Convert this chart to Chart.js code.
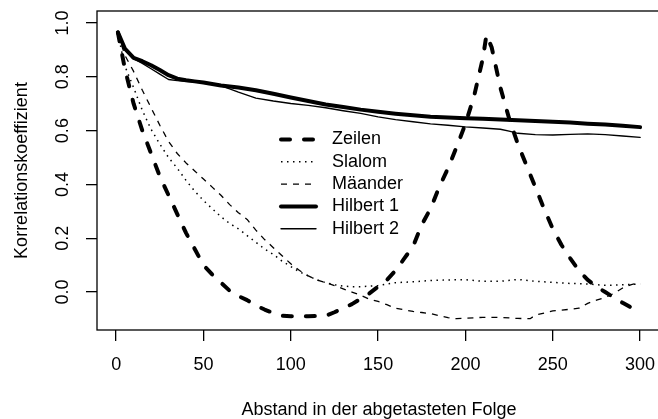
<!DOCTYPE html>
<html>
<head>
<meta charset="utf-8">
<script src="https://cdn.jsdelivr.net/npm/chart.js@4/dist/chart.umd.min.js"></script>
<style>
  html, body { margin: 0; padding: 0; background: #fff; overflow: hidden; }
  #wrap { width: 670px; height: 419px; }
</style>
</head>
<body>
<div id="wrap"><canvas id="graph" width="670" height="419"></canvas></div>
<script>
// axis labels
const xTitle = 'Abstand in der abgetasteten Folge';
const yTitle = 'Korrelationskoeffizient';
const seriesNames = ['Zeilen', 'Slalom', 'Mäander', 'Hilbert 1', 'Hilbert 2'];

// data (lag, correlation)
const zeilenLag = [1,5,10,15,20,25,30,35,40,45,50,55,60,65,70,75,80,85,90,95,100,110,120,125,130,135,140,145,150,155,160,165,170,175,180,185,190,195,200,205,210,212,215,220,225,230,235,240,245,250,255,260,265,270,275,280,285,290,295,300];
const zeilenR = [0.965,0.83,0.70,0.60,0.515,0.43,0.36,0.29,0.22,0.16,0.10,0.065,0.035,0.005,-0.015,-0.03,-0.05,-0.065,-0.078,-0.088,-0.09,-0.09,-0.088,-0.075,-0.06,-0.045,-0.025,-0.005,0.02,0.045,0.08,0.125,0.17,0.25,0.31,0.39,0.46,0.54,0.625,0.73,0.87,0.955,0.91,0.76,0.645,0.55,0.47,0.39,0.31,0.235,0.175,0.125,0.08,0.045,0.02,0.0,-0.02,-0.04,-0.058,-0.07];

const slalomLag = [1,5,10,15,20,25,30,35,40,45,50,55,60,65,70,75,80,85,90,95,100,105,110,115,120,125,130,135,140,145,150,155,160,170,180,190,200,210,220,230,240,250,260,270,280,290,300];
const slalomR = [0.96,0.84,0.76,0.675,0.605,0.55,0.50,0.46,0.415,0.375,0.34,0.31,0.28,0.255,0.235,0.21,0.185,0.16,0.14,0.115,0.095,0.075,0.06,0.045,0.035,0.027,0.022,0.02,0.02,0.022,0.024,0.03,0.035,0.038,0.043,0.045,0.046,0.04,0.04,0.047,0.04,0.036,0.032,0.03,0.025,0.027,0.03];

const maeanderLag = [1,5,10,15,20,25,30,35,40,45,50,55,60,65,70,75,80,85,90,95,100,105,110,115,120,125,130,135,140,145,150,155,160,165,170,175,180,185,190,195,200,210,220,230,237,240,245,250,260,265,270,275,280,285,290,295,300];
const maeanderR = [0.96,0.88,0.82,0.75,0.685,0.62,0.56,0.515,0.48,0.45,0.42,0.39,0.36,0.325,0.295,0.27,0.23,0.195,0.165,0.135,0.105,0.08,0.06,0.045,0.035,0.024,0.012,0.0,-0.012,-0.027,-0.035,-0.047,-0.06,-0.066,-0.072,-0.076,-0.08,-0.088,-0.095,-0.099,-0.097,-0.094,-0.094,-0.098,-0.099,-0.086,-0.078,-0.07,-0.064,-0.06,-0.042,-0.03,-0.02,-0.005,0.015,0.028,0.035];

const hilbert1Lag = [1,5,10,15,20,25,30,35,40,45,50,60,70,80,90,100,110,120,130,140,150,160,170,180,190,200,210,220,230,240,250,260,270,280,290,300];
const hilbert1R = [0.965,0.905,0.87,0.858,0.843,0.825,0.806,0.793,0.787,0.783,0.779,0.768,0.76,0.75,0.737,0.723,0.71,0.697,0.688,0.678,0.67,0.663,0.657,0.652,0.649,0.646,0.644,0.641,0.639,0.636,0.633,0.63,0.626,0.623,0.618,0.613];

const hilbert2Lag = [1,5,10,15,20,25,30,35,40,45,50,55,60,65,70,75,80,90,100,110,120,130,140,150,160,170,180,190,200,210,220,225,230,240,250,260,270,280,290,300];
const hilbert2R = [0.96,0.9,0.868,0.85,0.83,0.81,0.79,0.786,0.783,0.781,0.779,0.775,0.766,0.755,0.743,0.732,0.721,0.71,0.701,0.694,0.685,0.674,0.664,0.651,0.641,0.633,0.625,0.62,0.614,0.61,0.605,0.598,0.59,0.585,0.584,0.586,0.588,0.585,0.58,0.575];

const xTicks = [0, 50, 100, 150, 200, 250, 300];
const yTicks = [0.0, 0.2, 0.4, 0.6, 0.8, 1.0];

const font = '"Liberation Sans", Arial, Helvetica, sans-serif';

function pts(xs, ys) {
  return xs.map((x, i) => ({ x: x, y: ys[i] }));
}

const styles = [
  { width: 4,   dash: [9, 14], cap: 'round' },
  { width: 1.5, dash: [1.5, 4.5], cap: 'butt' },
  { width: 1.3, dash: [6, 6], cap: 'butt' },
  { width: 4,   dash: [], cap: 'round' },
  { width: 1.4, dash: [], cap: 'round' }
];

const allData = [
  pts(zeilenLag, zeilenR),
  pts(slalomLag, slalomR),
  pts(maeanderLag, maeanderR),
  pts(hilbert1Lag, hilbert1R),
  pts(hilbert2Lag, hilbert2R)
];

const datasets = seriesNames.map((name, i) => ({
  label: name,
  data: allData[i],
  borderColor: '#000',
  borderWidth: styles[i].width,
  borderDash: styles[i].dash,
  borderCapStyle: styles[i].cap,
  borderJoinStyle: 'round',
  pointRadius: 0,
  tension: 0,
  fill: false
}));

// R-like frame, rotated y labels, titles and legend
const rStyle = {
  id: 'rStyle',
  afterDraw(chart) {
    const ctx = chart.ctx;
    const a = chart.chartArea;
    const ys = chart.scales.y;
    ctx.save();
    ctx.strokeStyle = '#000';
    ctx.lineWidth = 1.3;
    ctx.setLineDash([]);
    ctx.strokeRect(a.left, a.top, a.right - a.left, a.bottom - a.top);

    ctx.fillStyle = '#000';
    ctx.font = '18px ' + font;
    ctx.textAlign = 'center';
    ctx.textBaseline = 'middle';
    yTicks.forEach(v => {
      ctx.save();
      ctx.translate(63, ys.getPixelForValue(v));
      ctx.rotate(-Math.PI / 2);
      ctx.fillText(v.toFixed(1), 0, 0);
      ctx.restore();
    });
    ctx.save();
    ctx.translate(22, (a.top + a.bottom) / 2);
    ctx.rotate(-Math.PI / 2);
    ctx.fillText(yTitle, 0, 0);
    ctx.restore();
    ctx.fillText(xTitle, (a.left + a.right) / 2, 410);

    // legend, no box
    ctx.textAlign = 'left';
    seriesNames.forEach((name, i) => {
      const y = 139.5 + i * 22.3;
      ctx.beginPath();
      ctx.lineWidth = styles[i].width;
      ctx.lineCap = styles[i].cap;
      ctx.setLineDash(styles[i].dash);
      ctx.moveTo(281, y);
      ctx.lineTo(316, y);
      ctx.stroke();
      ctx.fillText(name, 332, y);
    });
    ctx.restore();
  }
};

new Chart(document.getElementById('graph').getContext('2d'), {
  type: 'line',
  data: { datasets: datasets },
  options: {
    responsive: false,
    animation: false,
    layout: { padding: { top: 11, right: 9, left: 0, bottom: 0 } },
    plugins: { legend: { display: false }, tooltip: { enabled: false } },
    scales: {
      x: {
        type: 'linear',
        min: -10.96,
        max: 311.96,
        afterFit: s => { s.height = 89; },
        afterBuildTicks: s => { s.ticks = xTicks.map(v => ({ value: v })); },
        border: { display: false },
        grid: { drawOnChartArea: false, drawTicks: true, tickLength: 11, color: '#000', lineWidth: 1.3 },
        ticks: { color: '#000', padding: 13, maxRotation: 0, font: { size: 18, family: font } }
      },
      y: {
        type: 'linear',
        min: -0.141,
        max: 1.0446,
        afterFit: s => { s.width = 97; },
        afterBuildTicks: s => { s.ticks = yTicks.map(v => ({ value: v })); },
        border: { display: false },
        grid: { drawOnChartArea: false, drawTicks: true, tickLength: 11, color: '#000', lineWidth: 1.3 },
        ticks: { display: false }
      }
    }
  },
  plugins: [rStyle]
});
</script>
</body>
</html>
